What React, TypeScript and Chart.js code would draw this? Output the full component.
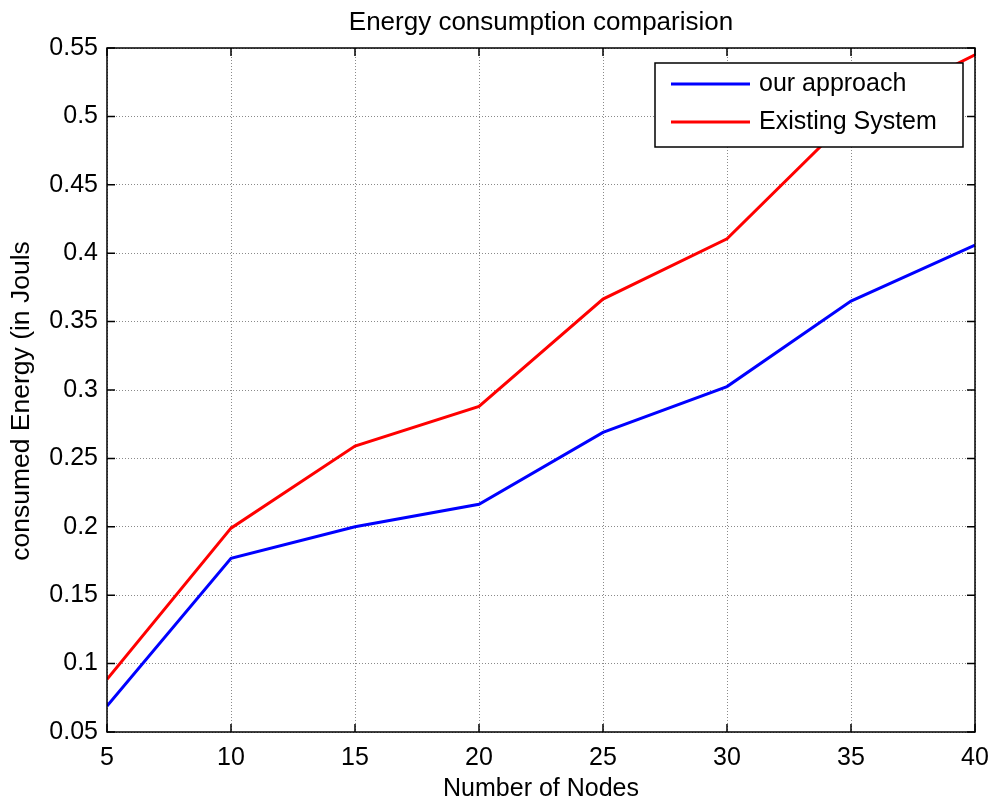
import React, { useEffect, useRef } from "react";
import { Chart, registerables } from "chart.js";

Chart.register(...registerables);

const nodeCounts = [5, 10, 15, 20, 25, 30, 35, 40];
const ourApproach = [0.069, 0.177, 0.2, 0.2165, 0.269, 0.3025, 0.365, 0.406];
const existingSystem = [0.0885, 0.199, 0.259, 0.288, 0.3665, 0.4105, 0.5, 0.545];
const xTicks = [5, 10, 15, 20, 25, 30, 35, 40];
const yTicks = [0.05, 0.1, 0.15, 0.2, 0.25, 0.3, 0.35, 0.4, 0.45, 0.5, 0.55];
const yTickLabels = ["0.05", "0.1", "0.15", "0.2", "0.25", "0.3", "0.35", "0.4", "0.45", "0.5", "0.55"];
const seriesNames = ["our approach", "Existing System"];
const seriesColors = ["#0000ff", "#ff0000"];
const chartTitle = "Energy consumption comparision";
const xAxisTitle = "Number of Nodes";
const yAxisTitle = "consumed Energy (in Jouls";

const FONT = "'Liberation Sans', Arial, Helvetica, sans-serif";

const framePlugin = {
  id: "matlabFrame",
  afterDraw(chart: any) {
    const { ctx, chartArea } = chart;
    const { left, right, top, bottom } = chartArea;
    const xs = chart.scales.x;
    const ys = chart.scales.y;
    ctx.save();
    ctx.strokeStyle = "#000";
    ctx.lineWidth = 1.5;
    ctx.strokeRect(left, top, right - left, bottom - top);
    ctx.beginPath();
    const tl = 8;
    xTicks.forEach((v) => {
      const px = xs.getPixelForValue(v);
      ctx.moveTo(px, bottom);
      ctx.lineTo(px, bottom - tl);
      ctx.moveTo(px, top);
      ctx.lineTo(px, top + tl);
    });
    yTicks.forEach((v) => {
      const py = ys.getPixelForValue(v);
      ctx.moveTo(left, py);
      ctx.lineTo(left + tl, py);
      ctx.moveTo(right, py);
      ctx.lineTo(right - tl, py);
    });
    ctx.stroke();

    // y axis title (rotated)
    ctx.save();
    ctx.translate(22, (top + bottom) / 2 + 11);
    ctx.rotate(-Math.PI / 2);
    ctx.font = `26.5px ${FONT}`;
    ctx.fillStyle = "#000";
    ctx.textAlign = "center";
    ctx.textBaseline = "middle";
    ctx.fillText(yAxisTitle, 0, 0);
    ctx.restore();

    // legend box
    const bw = 308;
    const bh = 84;
    const bx = right - 12 - bw;
    const by = top + 15;
    ctx.fillStyle = "#fff";
    ctx.fillRect(bx, by, bw, bh);
    ctx.strokeStyle = "#000";
    ctx.lineWidth = 1.5;
    ctx.strokeRect(bx, by, bw, bh);
    ctx.font = `25px ${FONT}`;
    ctx.textBaseline = "middle";
    ctx.textAlign = "left";
    seriesNames.forEach((name, i) => {
      const cy = by + 21 + i * 38;
      ctx.strokeStyle = seriesColors[i];
      ctx.lineWidth = 3;
      ctx.beginPath();
      ctx.moveTo(bx + 16, cy);
      ctx.lineTo(bx + 95, cy);
      ctx.stroke();
      ctx.fillStyle = "#000";
      ctx.fillText(name, bx + 104, cy);
    });
    ctx.restore();
  },
};

export default function App() {
  const canvasRef = useRef<HTMLCanvasElement | null>(null);

  useEffect(() => {
    if (!canvasRef.current) return;
    const chart = new Chart(canvasRef.current, {
      type: "line",
      data: {
        datasets: [
          {
            label: seriesNames[0],
            data: nodeCounts.map((x, i) => ({ x, y: ourApproach[i] })),
            borderColor: seriesColors[0],
            backgroundColor: seriesColors[0],
            borderWidth: 3,
            pointRadius: 0,
            tension: 0,
          },
          {
            label: seriesNames[1],
            data: nodeCounts.map((x, i) => ({ x, y: existingSystem[i] })),
            borderColor: seriesColors[1],
            backgroundColor: seriesColors[1],
            borderWidth: 3,
            pointRadius: 0,
            tension: 0,
          },
        ],
      },
      options: {
        animation: false,
        responsive: false,
        devicePixelRatio: 1,
        layout: { padding: { left: 0, right: 19, top: 0, bottom: 0 } },
        plugins: {
          legend: { display: false },
          tooltip: { enabled: false },
          title: {
            display: true,
            fullSize: false,
            text: chartTitle,
            color: "#000",
            font: { family: FONT, size: 26, weight: "normal", lineHeight: 1.2 },
            padding: { top: 7.5, bottom: 9.3 },
          },
        },
        scales: {
          x: {
            type: "linear",
            min: 5,
            max: 40,
            afterBuildTicks: (scale: any) => {
              scale.ticks = xTicks.map((v) => ({ value: v }));
            },
            afterFit: (scale: any) => {
              scale.height = 71;
              scale.paddingLeft = 0;
              scale.paddingRight = 0;
            },
            ticks: {
              color: "#000",
              font: { family: FONT, size: 25 },
              padding: 11,
              maxRotation: 0,
              autoSkip: false,
              callback: (v: any) => String(v),
            },
            grid: { color: "#8a8a8a", lineWidth: 1, drawTicks: false },
            border: { display: false, dash: [1, 2] },
            title: {
              display: true,
              text: xAxisTitle,
              color: "#000",
              font: { family: FONT, size: 25, lineHeight: 1 },
              padding: { top: 0, bottom: 1.5 },
            },
          },
          y: {
            type: "linear",
            min: 0.05,
            max: 0.55,
            afterBuildTicks: (scale: any) => {
              scale.ticks = yTicks.map((v) => ({ value: v }));
            },
            afterFit: (scale: any) => {
              scale.width = 107;
              scale.paddingTop = 0;
              scale.paddingBottom = 0;
            },
            ticks: {
              color: "#000",
              font: { family: FONT, size: 25 },
              padding: 9,
              autoSkip: false,
              callback: (v: any) => {
                const idx = yTicks.findIndex((t) => Math.abs(t - v) < 1e-9);
                return idx >= 0 ? yTickLabels[idx] : "";
              },
            },
            grid: { color: "#8a8a8a", lineWidth: 1, drawTicks: false },
            border: { display: false, dash: [1, 2] },
          },
        },
      },
      plugins: [framePlugin],
    } as any);
    return () => chart.destroy();
  }, []);

  return (
    <div style={{ position: "absolute", left: 0, top: 0, width: 994, height: 803, background: "#fff" }}>
      <canvas ref={canvasRef} width={994} height={803} style={{ display: "block" }} />
    </div>
  );
}
